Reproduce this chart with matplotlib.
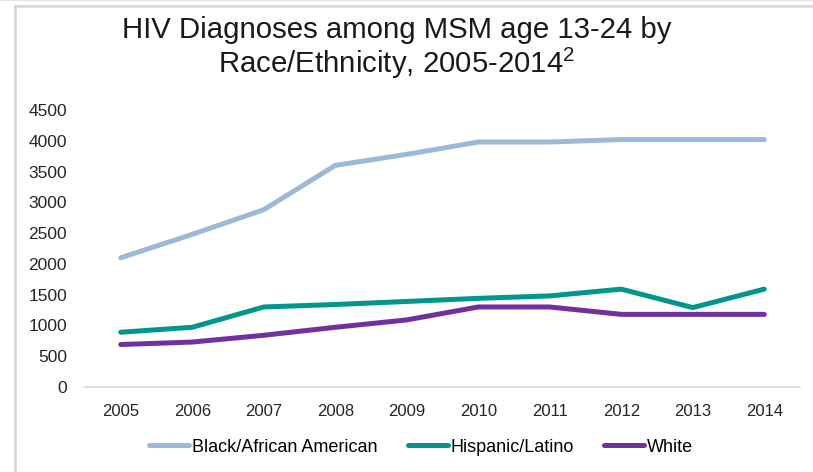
import matplotlib.pyplot as plt
from matplotlib.lines import Line2D

plt.rcParams['font.family'] = ['Liberation Sans', 'DejaVu Sans']

# Dữ liệu
years = ['2005', '2006', '2007', '2008', '2009', '2010', '2011', '2012', '2013', '2014']
black = [2100, 2480, 2880, 3600, 3780, 3980, 3980, 4020, 4020, 4020]
hispanic = [890, 970, 1300, 1340, 1390, 1440, 1480, 1590, 1290, 1590]
white = [690, 730, 840, 970, 1090, 1300, 1300, 1180, 1180, 1180]

series_names = ['Black/African American', 'Hispanic/Latino', 'White']
colors = ['#9DB9D9', '#00968A', '#7030A0']

fig = plt.figure(figsize=(8.13, 4.72), dpi=100)

# khung viền xám nhạt
fig.add_artist(Line2D([0, 1], [0.999, 0.999], color='#E6E6E6', lw=1.5, transform=fig.transFigure))
fig.add_artist(Line2D([15 / 813, 15 / 813], [0, 1 - 6 / 472], color='#D9D9D9', lw=2, transform=fig.transFigure))
fig.add_artist(Line2D([15 / 813, 1], [1 - 6 / 472, 1 - 6 / 472], color='#D9D9D9', lw=2, transform=fig.transFigure))

ax = fig.add_axes([85 / 813, 1 - 387 / 472, 715 / 813, 277 / 472])
x = range(len(years))
for vals, name, c in zip([black, hispanic, white], series_names, colors):
    ax.plot(x, vals, color=c, lw=3.6, label=name, solid_capstyle='round', solid_joinstyle='round')

ax.set_xlim(-0.5, len(years) - 0.5)
ax.set_ylim(0, 4500)
ax.set_yticks(range(0, 4501, 500))
ax.set_xticks(list(x))
ax.set_xticklabels(years)
ax.tick_params(axis='both', length=0, colors='#262626')
ax.tick_params(axis='x', pad=12, labelsize=12)
ax.tick_params(axis='y', pad=13, labelsize=12.5)
for s in ['top', 'right', 'left']:
    ax.spines[s].set_visible(False)
ax.spines['bottom'].set_color('#D9D9D9')
ax.spines['bottom'].set_linewidth(1.2)

fig.text(397 / 813, 1 - 30 / 472, 'HIV Diagnoses among MSM age 13-24 by', ha='center', va='center',
         fontsize=21.2, color='#1a1a1a')
fig.text(397 / 813, 1 - 63 / 472, 'Race/Ethnicity, 2005-2014$^{\\mathregular{2}}$', ha='center', va='center',
         fontsize=21.2, color='#1a1a1a')

fig.legend(loc='center', bbox_to_anchor=(421 / 813, 1 - 447 / 472), ncol=3, frameon=False,
           fontsize=13, handlelength=2.2, handletextpad=0.15, columnspacing=1.7)

plt.savefig('out.png', dpi=100)
